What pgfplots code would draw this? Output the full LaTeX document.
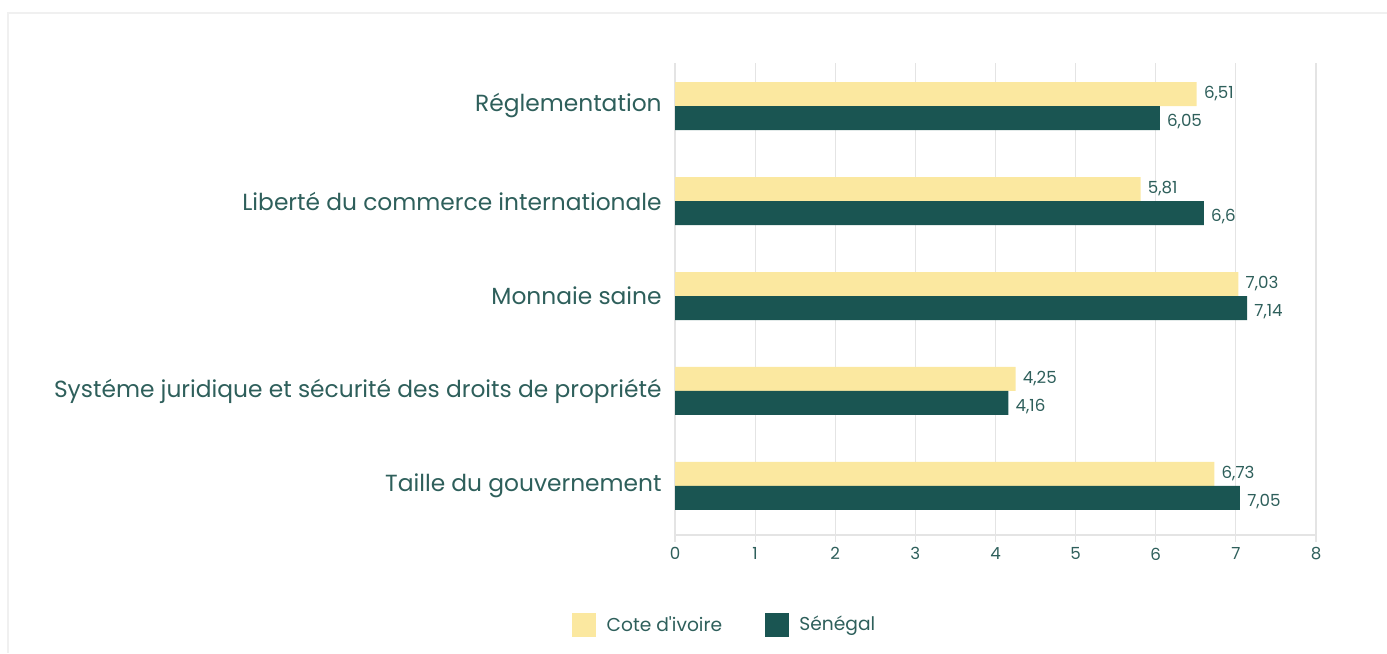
\documentclass[border=0pt]{standalone}
\usepackage{pgfplots}
\pgfplotsset{compat=1.18}
\usepackage{fontspec}
\setmainfont{Poppins}[Ligatures=TeXOff]
\definecolor{cyellow}{HTML}{FBE8A0}
\definecolor{cgreen}{HTML}{1A5552}
\definecolor{ctext}{HTML}{2E5F5B}
\definecolor{cgrid}{HTML}{E4E4E4}
\begin{document}
\begin{tikzpicture}
\path[use as bounding box] (0pt,0pt) rectangle (1040.25pt,489.75pt);
\draw[color=black!6, line width=1.2pt] (6pt,0pt) -- (6pt,480pt) -- (1040.25pt,480pt);
\begin{axis}[
  at={(506.25pt,88.5pt)}, anchor=south west,
  scale only axis, width=480.75pt, height=354pt,
  xmin=0, xmax=8, ymin=-0.516, ymax=4.453,
  xtick={0,1,...,8},
  ytick={0,1,2,3,4},
  yticklabels={Taille du gouvernement, Systéme juridique et sécurité des droits de propriété, Monnaie saine, Liberté du commerce internationale, Réglementation},
  separate axis lines,
  axis x line*=bottom, axis y line*=left,
  x axis line style={draw=cgrid, line width=0.9pt},
  y axis line style={draw=none},
  xmajorgrids, grid style={draw=cgrid, line width=0.9pt},
  tick align=outside, major tick length=5pt,
  xtick style={draw=cgrid, line width=0.9pt},
  ytick style={draw=none},
  xticklabel style={font=\fontsize{12.5}{14}\selectfont, text=ctext, yshift=-1pt},
  yticklabel style={font=\fontsize{17.5}{20}\selectfont, text=ctext, xshift=-1.5pt},
  /pgf/number format/use comma,
  /pgf/number format/assume math mode=true,
  xbar, bar width=18pt, bar shift=0pt,
  point meta=x,
  nodes near coords,
  nodes near coords style={anchor=west, font=\fontsize{12.5}{14}\selectfont, text=ctext, xshift=2pt},
  legend image code/.code={\fill[#1] (0pt,-9pt) rectangle (18pt,9pt);},
  legend style={at={(0.078,-0.19)}, anchor=center, draw=none, fill=none,
    legend columns=2, font=\fontsize{14}{16}\selectfont, text=ctext,
    /tikz/every even column/.append style={column sep=30pt},
    /tikz/every odd column/.append style={column sep=6pt}},
]
\addplot[fill=cyellow, draw=none] coordinates {(6.73,0.1263) (4.25,1.1263) (7.03,2.1263) (5.81,3.1263) (6.51,4.1263)};
\addlegendentry{Cote d'ivoire}
\addplot[fill=cgreen, draw=none, nodes near coords style={yshift=-2.5pt}] coordinates {(7.05,-0.1263) (4.16,0.8737) (7.14,1.8737) (6.6,2.8737) (6.05,3.8737)};
\addlegendentry{Sénégal}
\end{axis}
\end{tikzpicture}
\end{document}
